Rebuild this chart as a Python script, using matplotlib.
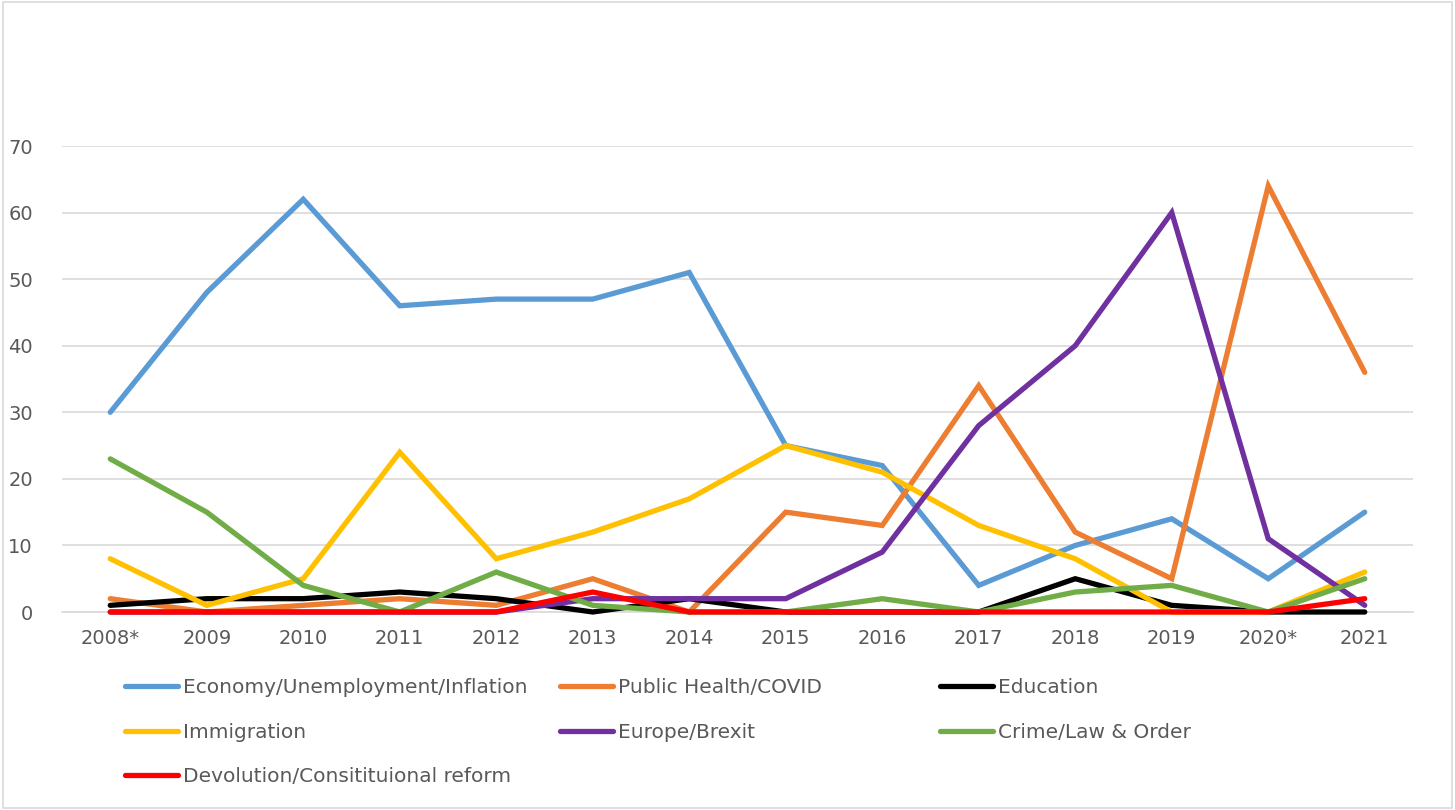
import matplotlib.pyplot as plt
from matplotlib.patches import Rectangle

# Most important issue per year (counts)
years = ["2008*", "2009", "2010", "2011", "2012", "2013", "2014",
         "2015", "2016", "2017", "2018", "2019", "2020*", "2021"]

economy = [30, 48, 62, 46, 47, 47, 51, 25, 22, 4, 10, 14, 5, 15]
public_health = [2, 0, 1, 2, 1, 5, 0, 15, 13, 34, 12, 5, 64, 36]
education = [1, 2, 2, 3, 2, 0, 2, 0, 0, 0, 5, 1, 0, 0]
immigration = [8, 1, 5, 24, 8, 12, 17, 25, 21, 13, 8, 0, 0, 6]
europe = [0, 0, 0, 0, 0, 2, 2, 2, 9, 28, 40, 60, 11, 1]
crime = [23, 15, 4, 0, 6, 1, 0, 0, 2, 0, 3, 4, 0, 5]
devolution = [0, 0, 0, 0, 0, 3, 0, 0, 0, 0, 0, 0, 0, 2]

series = [
    ("Economy/Unemployment/Inflation", economy, "#5B9BD5"),
    ("Public Health/COVID", public_health, "#ED7D31"),
    ("Education", education, "#000000"),
    ("Immigration", immigration, "#FFC000"),
    ("Europe/Brexit", europe, "#7030A0"),
    ("Crime/Law & Order", crime, "#70AD47"),
    ("Devolution/Consitituional reform", devolution, "#FF0000"),
]

TEXT = "#595959"
plt.rcParams["font.family"] = ["DejaVu Sans"]

fig = plt.figure(figsize=(14.55, 8.10), dpi=100)
fig.patches.append(Rectangle((0.002, 0.002), 0.996, 0.995, transform=fig.transFigure,
                             fill=False, edgecolor="#D9D9D9", linewidth=1.2))

# axes box in pixels: left 62, right 1413, bottom y=612, top y=146
W, H = 1455, 810
ax = fig.add_axes([62 / W, (H - 612) / H, (1413 - 62) / W, (612 - 146) / H])

xs = list(range(len(years)))
handles = []
for name, vals, color in series:
    (ln,) = ax.plot(xs, vals, color=color, linewidth=3.8, label=name,
                    solid_joinstyle="miter", solid_capstyle="round",
                    clip_on=False, zorder=3)
    handles.append(ln)

ax.set_xlim(-0.5, len(years) - 0.5)
ax.set_ylim(0, 70)
ax.set_yticks(range(0, 71, 10))
ax.set_xticks(xs)
ax.set_xticklabels(years)
ax.grid(axis="y", color="#D9D9D9", linewidth=1.2)
ax.set_axisbelow(True)
for side in ["top", "right", "left"]:
    ax.spines[side].set_visible(False)
ax.spines["bottom"].set_color("#D9D9D9")
ax.spines["bottom"].set_linewidth(1.2)
ax.spines["bottom"].set_zorder(1)
ax.tick_params(length=0, labelsize=14, labelcolor=TEXT)
ax.tick_params(axis="x", pad=12)
ax.tick_params(axis="y", pad=21)

# three legend columns, as laid out under the plot
columns = [(handles[0::3], 125), (handles[1::3], 560), (handles[2::3], 940)]
for col_handles, x_px in columns:
    leg = fig.legend(handles=col_handles, loc="upper left",
                     bbox_to_anchor=(x_px / W, (H - 678) / H),
                     frameon=False, fontsize=14.5, handlelength=2.65,
                     handletextpad=0.25, labelspacing=1.27, borderpad=0,
                     borderaxespad=0)
    for t in leg.get_texts():
        t.set_color(TEXT)

fig.savefig("out.png", dpi=100)
